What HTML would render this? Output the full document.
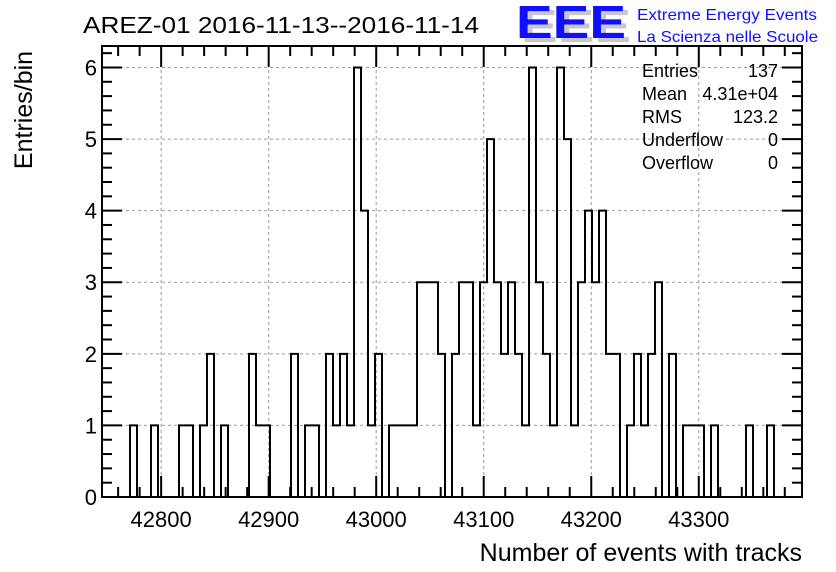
<!DOCTYPE html>
<html><head><meta charset="utf-8"><style>
html,body{margin:0;padding:0;background:#fff;}
svg{display:block;font-family:"Liberation Sans",Arial,sans-serif;}
</style></head><body>
<svg id="chart" width="836" height="572" viewBox="0 0 836 572" xmlns="http://www.w3.org/2000/svg">
<rect width="836" height="572" fill="#fff"/>
<g id="grid"></g>
<g id="ticks"></g>
<g id="xlabels" font-size="22" text-anchor="middle"></g>
<g id="ylabels" font-size="22" text-anchor="end"></g>
<path id="hist" fill="none" stroke="#000" stroke-width="2"/>
<rect x="102" y="46" width="700" height="451" fill="none" stroke="#000" stroke-width="2"/>
<text x="83" y="33" font-size="23" textLength="396" lengthAdjust="spacingAndGlyphs">AREZ-01 2016-11-13--2016-11-14</text>
<g>
<text x="521" y="42" font-size="46" font-weight="bold" fill="#c8c8c8" textLength="110" lengthAdjust="spacingAndGlyphs">EEE</text>
<text x="516" y="38" font-size="46" font-weight="bold" fill="#1010ff" textLength="110" lengthAdjust="spacingAndGlyphs">EEE</text>
<text x="637" y="20" font-size="16" fill="#1010ff" textLength="180" lengthAdjust="spacingAndGlyphs">Extreme Energy Events</text>
<text x="637" y="42" font-size="16" fill="#1010ff" textLength="181" lengthAdjust="spacingAndGlyphs">La Scienza nelle Scuole</text>
</g>
<text transform="translate(32,110) rotate(-90)" font-size="25" text-anchor="middle">Entries/bin</text>
<text x="802" y="561" font-size="25" text-anchor="end">Number of events with tracks</text>
<g font-size="18">
<text x="642" y="77">Entries</text><text x="778" y="77" text-anchor="end">137</text>
<text x="642" y="100">Mean</text><text x="778" y="100" text-anchor="end">4.31e+04</text>
<text x="642" y="123">RMS</text><text x="778" y="123" text-anchor="end">123.2</text>
<text x="642" y="146">Underflow</text><text x="778" y="146" text-anchor="end">0</text>
<text x="642" y="169">Overflow</text><text x="778" y="169" text-anchor="end">0</text>
</g>
</svg>
<script>
const counts = [0,0,0,0,1,0,0,1,0,0, 0,1,1,0,1,2,0,1,0,0, 0,2,1,1,0,0,0,2,0,1, 1,0,2,1,2,1,6,4,1,2, 0,1,1,1,1,3,3,3,2,0, 2,3,3,1,3,5,3,2,3,2, 1,6,3,2,1,6,5,1,3,4, 3,4,2,2,0,1,2,1,2,3, 0,2,0,1,1,1,0,1,0,0, 0,0,1,0,0,1,0,0,0,0];
const histMin = 42745;
const histMax = 43396;
const xTicks = [42800,42900,43000,43100,43200,43300];
const yTicks = [0,1,2,3,4,5,6];
const X0=102, X1=802, Y0=497, YT=46;
const xMin=42745, xMax=43396, yMax=6.3;
const sx = v => X0 + (v - xMin) / (xMax - xMin) * (X1 - X0);
const sy = v => Y0 - v / yMax * (Y0 - YT);
const NS='http://www.w3.org/2000/svg';
function mk(tag, attrs, parent){const e=document.createElementNS(NS,tag);for(const k in attrs)e.setAttribute(k,attrs[k]);parent.appendChild(e);return e;}
const grid=document.getElementById('grid'), ticks=document.getElementById('ticks');
const xl=document.getElementById('xlabels'), yl=document.getElementById('ylabels');
xTicks.forEach(v=>{
  const g=mk('line',{x1:sx(v),x2:sx(v),y1:YT,y2:Y0,stroke:'#999','stroke-dasharray':'3,3','stroke-width':1},grid);
  
  
  const t=mk('text',{x:sx(v),y:527},xl); t.textContent=v;
  
  
});
yTicks.forEach(v=>{
  if(v>0){const g=mk('line',{x1:X0,x2:X1,y1:sy(v),y2:sy(v),stroke:'#999','stroke-dasharray':'3,3','stroke-width':1},grid);
  
  }
  const t=mk('text',{x:97,y:sy(v)+8},yl); t.textContent=v;
  
  
});
// x ticks: minor every 20
for(let v=42760; v<=xMax; v+=20){
  const major = v%100===0, L = major?21:10, x=sx(v);
  mk('line',{x1:x,x2:x,y1:Y0,y2:Y0-L,stroke:'#000','stroke-width':2},ticks);
  mk('line',{x1:x,x2:x,y1:YT,y2:YT+L,stroke:'#000','stroke-width':2},ticks);
}
// y ticks: minor every 0.2
for(let i=0;i<=31;i++){
  const v=i*0.2, major=i%5===0, L=major?20:10, y=sy(v);
  if(y<YT) break;
  mk('line',{x1:X0,x2:X0+L,y1:y,y2:y,stroke:'#000','stroke-width':2},ticks);
  mk('line',{x1:X1,x2:X1-L,y1:y,y2:y,stroke:'#000','stroke-width':2},ticks);
}
const bw=(histMax-histMin)/counts.length;
let d='M'+sx(histMin)+','+sy(0);
counts.forEach((c,i)=>{
  const a=sx(histMin+i*bw), b=sx(histMin+(i+1)*bw);
  d+=' L'+a+','+sy(c)+' L'+b+','+sy(c);
});
d+=' L'+sx(histMax)+','+sy(0);
document.getElementById('hist').setAttribute('d',d);
</script>
</body></html>
